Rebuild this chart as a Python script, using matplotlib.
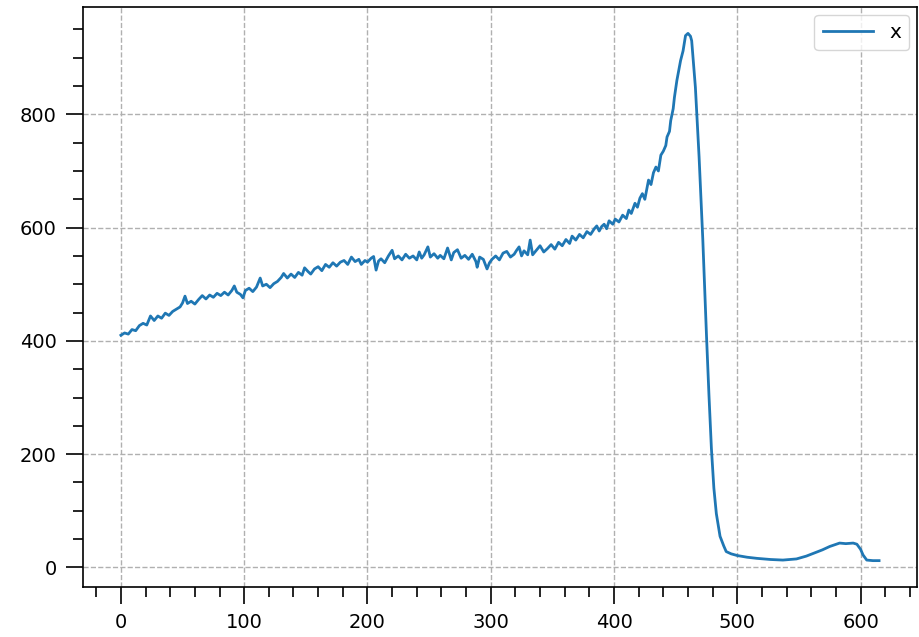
#reference-like line plot of a single noisy series "x"
import numpy as np
import matplotlib.pyplot as plt
from matplotlib.ticker import MultipleLocator

#values (index, value)
idx = [0, 3, 6, 9, 12, 15, 18, 21, 24, 27, 30, 33, 36, 39, 42, 45, 48, 50, 52, 54,
       57, 60, 63, 66, 69, 72, 75, 78, 81, 84, 87, 90, 92, 94, 97, 99, 101, 104, 107, 110,
       113, 115, 118, 121, 124, 127, 130, 132, 135, 138, 141, 144, 147, 149, 152, 154, 157, 160, 163, 166,
       169, 172, 175, 178, 181, 184, 187, 190, 193, 195, 198, 200, 203, 205, 207, 209, 211, 214, 217, 220,
       222, 225, 228, 231, 234, 237, 240, 242, 244, 246, 249, 251, 254, 257, 259, 262, 265, 268, 270, 273,
       276, 279, 282, 285, 288, 289, 291, 294, 297, 299, 301, 304, 307, 310, 313, 316, 319, 321, 323, 325,
       327, 330, 332, 334, 337, 340, 343, 346, 349, 352, 355, 358, 361, 364, 366, 369, 372, 375, 378, 381,
       384, 386, 388, 390, 392, 394, 396, 399, 401, 404, 407, 410, 412, 414, 417, 419, 421, 423, 425, 428,
       430, 432, 434, 436, 438, 440, 442, 443, 445, 446, 448, 449, 451, 452, 454, 456, 458, 460, 462, 463,
       466, 469, 472, 475, 477, 479, 481, 483, 486, 489, 491, 495, 500, 508, 516, 527, 537, 548, 556, 562,
       569, 575, 583, 588, 594, 597, 600, 602, 605, 610, 615]
x = [410, 414, 412, 420, 418, 427, 431, 428, 444, 436, 444, 440, 449, 445, 452, 456, 460, 467, 479, 466,
     470, 465, 473, 480, 474, 481, 477, 484, 480, 486, 481, 489, 497, 486, 482, 476, 489, 493, 487, 495,
     511, 497, 500, 494, 501, 505, 512, 519, 511, 518, 512, 521, 516, 529, 522, 518, 527, 531, 524, 535,
     530, 538, 532, 539, 542, 535, 548, 540, 544, 535, 542, 539, 546, 549, 525, 541, 545, 538, 550, 560,
     545, 550, 543, 553, 546, 550, 543, 557, 546, 552, 566, 548, 554, 546, 551, 545, 564, 543, 556, 561,
     546, 551, 544, 553, 540, 530, 548, 544, 527, 538, 544, 550, 543, 555, 558, 548, 553, 560, 566, 550,
     559, 552, 578, 552, 560, 568, 557, 563, 570, 562, 574, 568, 579, 572, 585, 578, 588, 582, 593, 588,
     598, 603, 594, 602, 606, 598, 612, 606, 615, 610, 622, 616, 631, 625, 643, 636, 652, 660, 650, 684,
     676, 697, 707, 700, 728, 735, 745, 760, 770, 789, 810, 830, 860, 872, 895, 912, 939, 943, 938, 930,
     848, 725, 580, 410, 305, 210, 140, 95, 55, 38, 28, 24, 21, 18, 16, 14, 13, 15, 20, 25,
     31, 37, 43, 42, 43, 41, 32, 22, 13, 12, 12]

fig = plt.figure(figsize=(9.19, 6.37), dpi=100)
ax = fig.add_axes([0.0903, 0.0785, 0.9075, 0.9105])
ax.plot(idx, x, color='#1f77b4', lw=2, label='x')

ax.xaxis.set_major_locator(MultipleLocator(100))
ax.xaxis.set_minor_locator(MultipleLocator(20))
ax.yaxis.set_major_locator(MultipleLocator(200))
ax.yaxis.set_minor_locator(MultipleLocator(50))
ax.tick_params(which='major', length=12, width=1.2, pad=7, labelsize=14)
ax.tick_params(which='minor', length=7, width=1.2)
for s in ax.spines.values():
    s.set_linewidth(1.2)
ax.grid(True, which='major', ls='--', color='#b0b0b0', lw=1)
ax.legend(loc='upper right', fontsize=14.5, handlelength=2.5, borderaxespad=0.4)
plt.savefig('out.png')
